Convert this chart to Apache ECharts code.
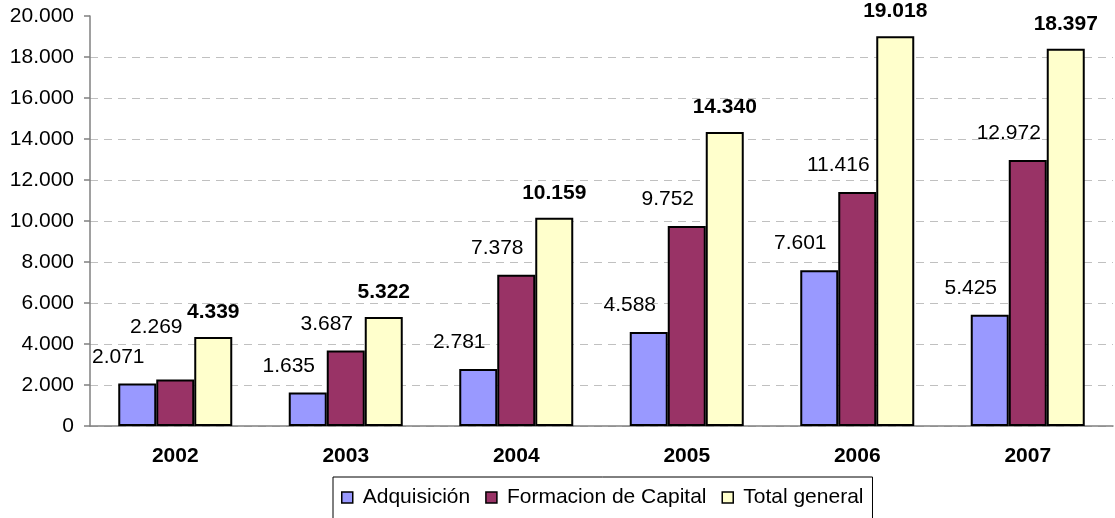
<!DOCTYPE html>
<html>
<head>
    <meta charset="utf-8">
    <title>Adquisición / Formacion de Capital</title>
    <script src="https://cdn.jsdelivr.net/npm/echarts@6/dist/echarts.min.js"></script>
    <style>
        html, body {
            margin: 0;
            padding: 0;
            background: #fff;
        }
        #chart {
            width: 1115px;
            height: 518px;
        }
    </style>
</head>
<body>
<div id="chart"></div>
<script>
    // datos
    var years = ['2002', '2003', '2004', '2005', '2006', '2007'];
    var adquisicion = [2071, 1635, 2781, 4588, 7601, 5425];
    var formacionCapital = [2269, 3687, 7378, 9752, 11416, 12972];
    var totalGeneral = [4339, 5322, 10159, 14340, 19018, 18397];

    // 12345 -> "12.345"
    function fmt(v) {
        return String(v).replace(/\B(?=(\d{3})+(?!\d))/g, '.');
    }

    var font = 'Liberation Sans, Arial, sans-serif';
    var chart = echarts.init(document.getElementById('chart'));

    function barLabel(bold, dx, dist) {
        return {
            show: true,
            position: 'top',
            distance: dist,
            offset: [dx, 0],
            fontFamily: font,
            fontSize: 21,
            fontWeight: bold ? 'bold' : 'normal',
            color: '#000',
            formatter: function (p) { return fmt(p.value); }
        };
    }

    function makeSeries(name, data, color, bold, dx, dist) {
        return {
            name: name,
            type: 'bar',
            data: data,
            barWidth: 38,
            barGap: 0,
            itemStyle: { color: color, borderColor: '#000', borderWidth: 2 },
            label: barLabel(bold, dx, dist),
            animation: false
        };
    }

    // like Excel: push the purple label up when it would sit on top of the blue one
    // (labelLayout drops label.offset, so the x shift is given again here)
    function avoidBlue(p) {
        var i = p.dataIndex;
        var blueTop = chart.convertToPixel({ gridIndex: 0 }, [i, adquisicion[i]])[1];
        var gap = blueTop - p.rect.y;
        var out = { dx: -19 };
        if (gap < 24) out.dy = -(30 - gap);
        return out;
    }

    // gridlines: hide the one at the top (20.000)
    var gridColors = [];
    for (var i = 0; i < 10; i++) gridColors.push('#c0c0c0');
    gridColors.push('transparent');

    var purple = makeSeries('Formacion de Capital', formacionCapital, '#993366', false, -19, 16);
    purple.labelLayout = avoidBlue;

    chart.setOption({
        animation: false,
        grid: { left: 90, right: 2, top: 16, bottom: 92 },
        legend: {
            left: 333,
            top: 477,
            padding: [10, 9, 12, 8],
            borderColor: '#000',
            borderWidth: 1,
            itemWidth: 11,
            itemHeight: 11,
            itemGap: 15,
            icon: 'rect',
            itemStyle: { borderWidth: 1.5 },
            textStyle: { fontFamily: font, fontSize: 21, color: '#000', padding: [0, 0, 0, 5] },
            data: ['Adquisición', 'Formacion de Capital', 'Total general']
        },
        xAxis: {
            type: 'category',
            data: years,
            axisLine: { lineStyle: { color: '#808080', width: 1.5 } },
            axisTick: { length: 6, lineStyle: { color: '#808080', width: 1.5 } },
            axisLabel: { margin: 20, fontFamily: font, fontSize: 21, fontWeight: 'bold', color: '#000' }
        },
        yAxis: {
            type: 'value',
            min: 0,
            max: 20000,
            interval: 2000,
            axisLine: { show: true, lineStyle: { color: '#808080', width: 1.5 } },
            axisTick: { show: true, length: 6, lineStyle: { color: '#808080', width: 1.5 } },
            axisLabel: {
                margin: 16,
                fontFamily: font,
                fontSize: 21,
                color: '#000',
                formatter: function (v) { return fmt(v); }
            },
            splitLine: { lineStyle: { color: gridColors, type: [8, 6] } }
        },
        series: [
            makeSeries('Adquisición', adquisicion, '#9999ff', false, -19, 16),
            purple,
            makeSeries('Total general', totalGeneral, '#ffffcc', true, 0, 14)
        ]
    });
</script>
</body>
</html>
